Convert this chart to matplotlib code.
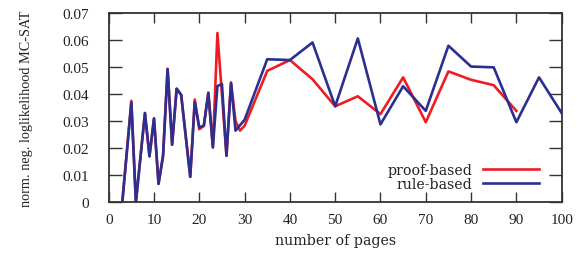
import matplotlib
matplotlib.use("Agg")
import matplotlib.pyplot as plt

x_rule = [3, 5, 6, 8, 9, 10, 11, 12, 13, 14, 15, 16, 18, 19, 20, 21, 22, 23, 24, 25, 26, 27, 28, 30,
          35, 40, 45, 50, 55, 60, 65, 70, 75, 80, 85, 90, 95, 100]
rule_based = [0, 0.0369, 0, 0.033, 0.017, 0.031, 0.0068, 0.0172, 0.0493, 0.0213, 0.042, 0.0397,
              0.0094, 0.037, 0.0277, 0.0283, 0.0405, 0.0203, 0.043, 0.0437, 0.0172, 0.0442, 0.0265,
              0.0305, 0.0529, 0.0526, 0.0591, 0.0355, 0.0606, 0.0288, 0.0429, 0.0338, 0.0579,
              0.0502, 0.0499, 0.0296, 0.0462, 0.033]

x_proof = [3, 5, 6, 8, 9, 10, 11, 12, 13, 14, 15, 16, 18, 19, 20, 21, 22, 23, 24, 26, 27, 28, 29, 30,
           35, 40, 45, 50, 55, 60, 65, 70, 75, 80, 85, 90]
proof_based = [0, 0.0375, 0, 0.033, 0.017, 0.031, 0.0068, 0.0172, 0.0493, 0.0213, 0.042, 0.0397,
               0.0094, 0.038, 0.027, 0.0283, 0.0405, 0.0203, 0.0626, 0.0172, 0.0442, 0.030, 0.0265,
               0.0283, 0.0486, 0.0526, 0.0455, 0.0355, 0.0392, 0.0326, 0.0462, 0.0296, 0.0484,
               0.0453, 0.0433, 0.0338]

x_ticks = [0, 10, 20, 30, 40, 50, 60, 70, 80, 90, 100]
y_ticks = [0, 0.01, 0.02, 0.03, 0.04, 0.05, 0.06, 0.07]
y_tick_labels = ["0", "0.01", "0.02", "0.03", "0.04", "0.05", "0.06", "0.07"]

plt.rcParams['font.family'] = ['Liberation Serif', 'DejaVu Serif']
wide = ['DejaVu Serif']

fig = plt.figure(figsize=(5.77, 2.55), dpi=100)
ax = fig.add_axes([0.1884, 0.203, 0.785, 0.742])

ax.plot(x_proof, proof_based, color='#ee1c25', lw=1.9, label='proof-based')
ax.plot(x_rule, rule_based, color='#2b2f8f', lw=1.9, label='rule-based')

ax.set_xlim(0, 100)
ax.set_ylim(0, 0.07)
ax.set_xticks(x_ticks)
ax.set_xticklabels([str(v) for v in x_ticks])
ax.set_yticks(y_ticks)
ax.set_yticklabels(y_tick_labels)
ax.tick_params(direction='in', width=1.0, color='#333333', top=True, right=True,
               labelsize=11, labelcolor='#222222')
ax.tick_params(axis='x', length=7.2, pad=8.0)
ax.tick_params(axis='y', length=9.4, pad=14.0)
for s in ax.spines.values():
    s.set_linewidth(1.3)
    s.set_color('#333333')

ax.set_xlabel('number of pages', fontsize=10.2, family=wide, labelpad=5, color='#222222')
ax.set_ylabel('norm. neg. loglikelihood MC-SAT', fontsize=10.3, labelpad=21, color='#222222')

leg = ax.legend(loc='center right', frameon=False, markerfirst=False,
                prop={'family': wide, 'size': 10.2},
                handlelength=4.0, handletextpad=0.7, labelspacing=0.0, borderpad=0.0,
                borderaxespad=0.0, bbox_to_anchor=(0.9506, 0.134))
for t in leg.get_texts():
    t.set_color('#222222')

fig.savefig('out.png', dpi=100)
